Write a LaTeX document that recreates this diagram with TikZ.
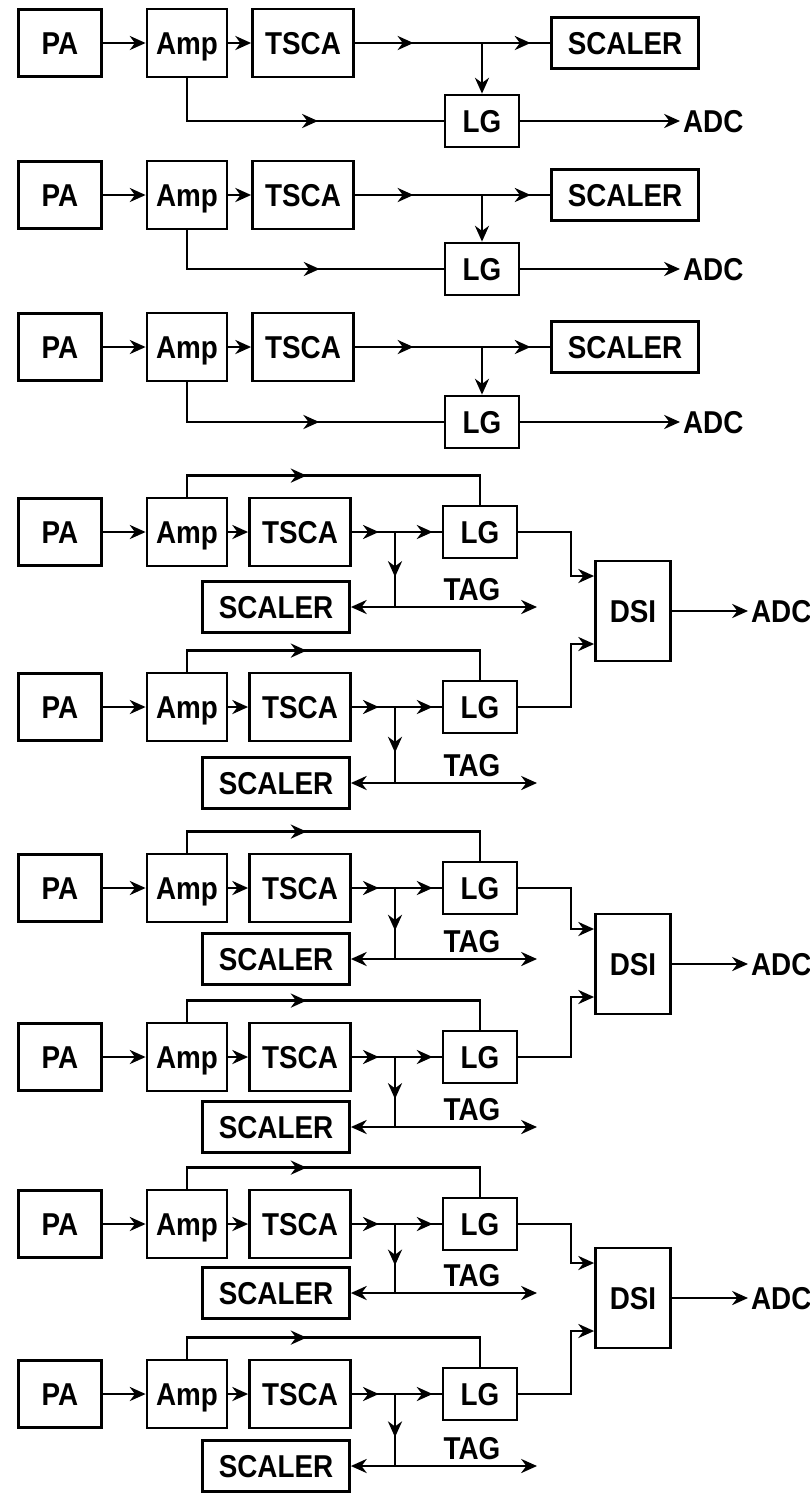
\documentclass[tikz,border=0pt]{standalone}
\usepackage{fontspec}
\setmainfont[FakeStretch=0.88]{Liberation Sans}
\usetikzlibrary{arrows.meta,calc,decorations.markings}

\begin{document}
\begin{tikzpicture}[x=0.02cm,y=-0.02cm,line width=1.5pt,
every node/.style={font=\fontsize{18}{20}\selectfont\bfseries,text height=13pt,text depth=0pt},
box/.style={rectangle,draw,line width=1.6pt,inner sep=0pt},
pa/.style={box,minimum width=1.66cm,minimum height=1.34cm},
amp/.style={box,minimum width=1.6cm,minimum height=1.36cm},
tsca/.style={box,minimum width=2.02cm,minimum height=1.36cm},
lg/.style={box,minimum width=1.48cm,minimum height=1.04cm},
scaler/.style={box,minimum width=2.94cm,minimum height=1.02cm},
dsi/.style={box,minimum width=1.5cm,minimum height=2cm},
adcout/.style={inner sep=1pt,anchor=west},
sig/.style={-{Stealth[length=9pt,width=8pt]}},
midarr/.style={postaction={decorate,decoration={markings,mark=at position #1 with {\arrow{Stealth[length=9pt,width=8pt]}}}}}]
\useasboundingbox (0,0) rectangle (810,1495);
\node[pa] (pa1) at (60,43) {PA};
\node[amp] (amp1) at (187,43) {Amp};
\node[tsca] (tsca1) at (303,43) {TSCA};
\node[scaler] (sc1) at (625,43) {SCALER};
\node[lg] (lg1) at (482,121) {LG};
\node[adcout] (adc1) at (680,121) {ADC};
\draw[sig] (pa1) -- (amp1);
\draw[sig] (amp1) -- (tsca1);
\draw[midarr=0.3,midarr=0.9] (tsca1) -- (sc1);
\draw[sig] (lg1.north |- tsca1.east) -- (lg1.north);
\draw[midarr=0.58] (amp1.south) |- (lg1.west);
\draw[sig] (lg1) -- (adc1);
\node[pa] (pa2) at (60,195) {PA};
\node[amp] (amp2) at (187,195) {Amp};
\node[tsca] (tsca2) at (303,195) {TSCA};
\node[scaler] (sc2) at (625,195) {SCALER};
\node[lg] (lg2) at (482,269) {LG};
\node[adcout] (adc2) at (680,269) {ADC};
\draw[sig] (pa2) -- (amp2);
\draw[sig] (amp2) -- (tsca2);
\draw[midarr=0.3,midarr=0.9] (tsca2) -- (sc2);
\draw[sig] (lg2.north |- tsca2.east) -- (lg2.north);
\draw[midarr=0.58] (amp2.south) |- (lg2.west);
\draw[sig] (lg2) -- (adc2);
\node[pa] (pa3) at (60,347) {PA};
\node[amp] (amp3) at (187,347) {Amp};
\node[tsca] (tsca3) at (303,347) {TSCA};
\node[scaler] (sc3) at (625,347) {SCALER};
\node[lg] (lg3) at (482,422) {LG};
\node[adcout] (adc3) at (680,422) {ADC};
\draw[sig] (pa3) -- (amp3);
\draw[sig] (amp3) -- (tsca3);
\draw[midarr=0.3,midarr=0.9] (tsca3) -- (sc3);
\draw[sig] (lg3.north |- tsca3.east) -- (lg3.north);
\draw[midarr=0.58] (amp3.south) |- (lg3.west);
\draw[sig] (lg3) -- (adc3);
\node[dsi] (dsi1) at (633,611) {DSI};
\node[adcout] (adc4) at (748,611) {ADC};
\draw[sig] (dsi1) -- (adc4);
\node[pa] (pa4) at (60,532) {PA};
\node[amp] (amp4) at (187,532) {Amp};
\node[tsca] (tsca4) at (300,532) {TSCA};
\node[lg] (lg4) at (480,532) {LG};
\node[scaler] (sc4) at (276,607) {SCALER};
\node (tag4) at (472,589) {TAG};
\coordinate (j4) at (395,607);
\coordinate (tg4) at (537,607);
\draw[sig] (pa4) -- (amp4);
\draw[sig] (amp4) -- (tsca4);
\draw[midarr=0.3,midarr=0.9] (tsca4) -- (lg4);
\draw[midarr=0.6] (j4 |- tsca4.east) -- (j4);
\draw[sig] (j4) -- (sc4);
\draw[sig] (j4) -- (tg4);
\draw[midarr=0.41] (amp4.north) -- ++(0,-21) -| (lg4.north);
\draw[sig] (lg4.east) -| ($(dsi1.west)+(-23,-35)$) -- ($(dsi1.west)+(0,-35)$);
\node[pa] (pa5) at (60,707) {PA};
\node[amp] (amp5) at (187,707) {Amp};
\node[tsca] (tsca5) at (300,707) {TSCA};
\node[lg] (lg5) at (480,707) {LG};
\node[scaler] (sc5) at (276,783) {SCALER};
\node (tag5) at (472,765) {TAG};
\coordinate (j5) at (395,783);
\coordinate (tg5) at (537,783);
\draw[sig] (pa5) -- (amp5);
\draw[sig] (amp5) -- (tsca5);
\draw[midarr=0.3,midarr=0.9] (tsca5) -- (lg5);
\draw[midarr=0.6] (j5 |- tsca5.east) -- (j5);
\draw[sig] (j5) -- (sc5);
\draw[sig] (j5) -- (tg5);
\draw[midarr=0.41] (amp5.north) -- ++(0,-21) -| (lg5.north);
\draw[sig] (lg5.east) -| ($(dsi1.west)+(-23,33)$) -- ($(dsi1.west)+(0,33)$);
\node[dsi] (dsi2) at (633,964) {DSI};
\node[adcout] (adc6) at (748,964) {ADC};
\draw[sig] (dsi2) -- (adc6);
\node[pa] (pa6) at (60,888) {PA};
\node[amp] (amp6) at (187,888) {Amp};
\node[tsca] (tsca6) at (300,888) {TSCA};
\node[lg] (lg6) at (480,888) {LG};
\node[scaler] (sc6) at (276,959) {SCALER};
\node (tag6) at (472,941) {TAG};
\coordinate (j6) at (395,959);
\coordinate (tg6) at (537,959);
\draw[sig] (pa6) -- (amp6);
\draw[sig] (amp6) -- (tsca6);
\draw[midarr=0.3,midarr=0.9] (tsca6) -- (lg6);
\draw[midarr=0.6] (j6 |- tsca6.east) -- (j6);
\draw[sig] (j6) -- (sc6);
\draw[sig] (j6) -- (tg6);
\draw[midarr=0.41] (amp6.north) -- ++(0,-21) -| (lg6.north);
\draw[sig] (lg6.east) -| ($(dsi2.west)+(-23,-35)$) -- ($(dsi2.west)+(0,-35)$);
\node[pa] (pa7) at (60,1057) {PA};
\node[amp] (amp7) at (187,1057) {Amp};
\node[tsca] (tsca7) at (300,1057) {TSCA};
\node[lg] (lg7) at (480,1057) {LG};
\node[scaler] (sc7) at (276,1127) {SCALER};
\node (tag7) at (472,1109) {TAG};
\coordinate (j7) at (395,1127);
\coordinate (tg7) at (537,1127);
\draw[sig] (pa7) -- (amp7);
\draw[sig] (amp7) -- (tsca7);
\draw[midarr=0.3,midarr=0.9] (tsca7) -- (lg7);
\draw[midarr=0.6] (j7 |- tsca7.east) -- (j7);
\draw[sig] (j7) -- (sc7);
\draw[sig] (j7) -- (tg7);
\draw[midarr=0.41] (amp7.north) -- ++(0,-21) -| (lg7.north);
\draw[sig] (lg7.east) -| ($(dsi2.west)+(-23,33)$) -- ($(dsi2.west)+(0,33)$);
\node[dsi] (dsi3) at (633,1298) {DSI};
\node[adcout] (adc8) at (748,1298) {ADC};
\draw[sig] (dsi3) -- (adc8);
\node[pa] (pa8) at (60,1224) {PA};
\node[amp] (amp8) at (187,1224) {Amp};
\node[tsca] (tsca8) at (300,1224) {TSCA};
\node[lg] (lg8) at (480,1224) {LG};
\node[scaler] (sc8) at (276,1293) {SCALER};
\node (tag8) at (472,1275) {TAG};
\coordinate (j8) at (395,1293);
\coordinate (tg8) at (537,1293);
\draw[sig] (pa8) -- (amp8);
\draw[sig] (amp8) -- (tsca8);
\draw[midarr=0.3,midarr=0.9] (tsca8) -- (lg8);
\draw[midarr=0.6] (j8 |- tsca8.east) -- (j8);
\draw[sig] (j8) -- (sc8);
\draw[sig] (j8) -- (tg8);
\draw[midarr=0.41] (amp8.north) -- ++(0,-21) -| (lg8.north);
\draw[sig] (lg8.east) -| ($(dsi3.west)+(-23,-35)$) -- ($(dsi3.west)+(0,-35)$);
\node[pa] (pa9) at (60,1394) {PA};
\node[amp] (amp9) at (187,1394) {Amp};
\node[tsca] (tsca9) at (300,1394) {TSCA};
\node[lg] (lg9) at (480,1394) {LG};
\node[scaler] (sc9) at (276,1466) {SCALER};
\node (tag9) at (472,1448) {TAG};
\coordinate (j9) at (395,1466);
\coordinate (tg9) at (537,1466);
\draw[sig] (pa9) -- (amp9);
\draw[sig] (amp9) -- (tsca9);
\draw[midarr=0.3,midarr=0.9] (tsca9) -- (lg9);
\draw[midarr=0.6] (j9 |- tsca9.east) -- (j9);
\draw[sig] (j9) -- (sc9);
\draw[sig] (j9) -- (tg9);
\draw[midarr=0.41] (amp9.north) -- ++(0,-21) -| (lg9.north);
\draw[sig] (lg9.east) -| ($(dsi3.west)+(-23,33)$) -- ($(dsi3.west)+(0,33)$);
\end{tikzpicture}
\end{document}
